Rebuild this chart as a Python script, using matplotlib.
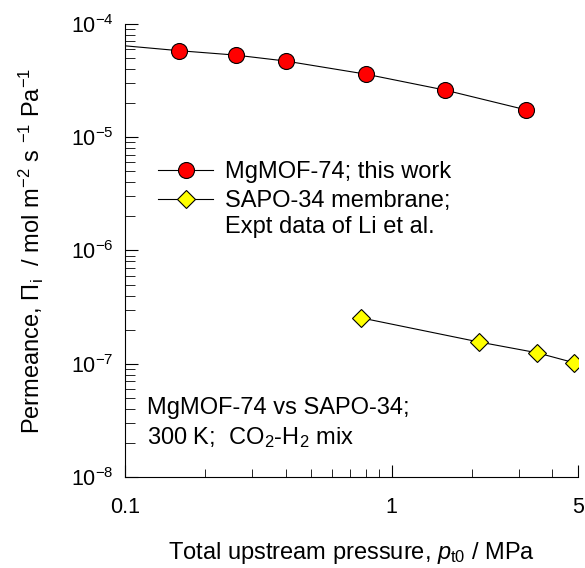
import matplotlib
matplotlib.use('Agg')
import matplotlib.pyplot as plt
from matplotlib.ticker import FixedLocator, FixedFormatter, LogLocator, NullFormatter

plt.rcParams['font.family'] = ['Liberation Sans', 'DejaVu Sans']
plt.rcParams['mathtext.fontset'] = 'custom'
plt.rcParams['mathtext.rm'] = 'Liberation Sans'
plt.rcParams['mathtext.it'] = 'Liberation Sans:italic'
plt.rcParams['mathtext.default'] = 'regular'

# MgMOF-74, this work (points)
mof_p = [0.159, 0.26, 0.40, 0.80, 1.59, 3.2]
mof_perm = [5.8e-5, 5.3e-5, 4.7e-5, 3.6e-5, 2.6e-5, 1.74e-5]
# model curve for MgMOF-74
mof_line_p = [0.1, 0.159, 0.26, 0.40, 0.80, 1.59, 3.2]
mof_line_perm = [6.4e-5, 5.8e-5, 5.3e-5, 4.7e-5, 3.6e-5, 2.6e-5, 1.74e-5]
# SAPO-34 membrane, Li et al.
sapo_p = [0.77, 2.12, 3.52, 4.85]
sapo_perm = [2.54e-7, 1.56e-7, 1.25e-7, 1.02e-7]

fig = plt.figure(figsize=(5.85, 5.68), dpi=100)
ax = fig.add_axes([0.2137, 0.160, 0.7743, 0.798])

ax.plot(mof_line_p, mof_line_perm, color='black', lw=0.8)
ax.plot(mof_p, mof_perm, 'o', color='red', mec='black', mew=0.8, ms=11.5)
ax.plot(sapo_p, sapo_perm, color='black', lw=0.8, zorder=1)
ax.plot(sapo_p, sapo_perm, 'D', color='yellow', mec='black', mew=0.8, ms=9.5)

# legend proxies
h1, = ax.plot([], [], 'o-', color='black', mfc='red', mec='black', mew=0.8, ms=11.5, lw=0.8)
h2, = ax.plot([], [], 'D-', color='black', mfc='yellow', mec='black', mew=0.8, ms=9.5, lw=0.8)
ax.legend([h1, h2], ['MgMOF-74; this work', 'SAPO-34 membrane;'],
          loc='upper left', bbox_to_anchor=(0.073, 0.697), frameon=False, fontsize=17,
          handlelength=2.33, handletextpad=0.5, labelspacing=0.3, borderpad=0,
          borderaxespad=0)
ax.text(0.221, 0.552, 'Expt data of Li et al.', transform=ax.transAxes, fontsize=17,
        va='center')

ax.set_xscale('log')
ax.set_yscale('log')
ax.set_xlim(0.1, 5)
ax.set_ylim(1e-8, 1e-4)

ax.xaxis.set_major_locator(FixedLocator([0.1, 1, 5]))
ax.xaxis.set_major_formatter(FixedFormatter(['0.1', '1', '5']))
ax.xaxis.set_minor_locator(FixedLocator([0.2, 0.3, 0.4, 0.5, 0.6, 0.7, 0.8, 0.9, 2, 3, 4]))
ax.xaxis.set_minor_formatter(NullFormatter())
ax.yaxis.set_major_locator(FixedLocator([1e-8, 1e-7, 1e-6, 1e-5, 1e-4]))
ax.yaxis.set_major_formatter(FixedFormatter([r'$10^{-8}$', r'$10^{-7}$', r'$10^{-6}$', r'$10^{-5}$', r'$10^{-4}$']))
ax.yaxis.set_minor_locator(LogLocator(base=10, subs=range(2, 10), numticks=20))
ax.yaxis.set_minor_formatter(NullFormatter())

ax.spines['top'].set_visible(False)
ax.spines['right'].set_visible(False)
ax.tick_params(which='both', direction='in', labelsize=15.5)
ax.tick_params(axis='x', which='major', length=9, pad=14)
ax.tick_params(axis='x', which='minor', length=6)
ax.tick_params(axis='y', which='major', length=9, pad=8)
ax.tick_params(axis='y', which='minor', length=7)

ax.text(0.0486, 0.152, 'MgMOF-74 vs SAPO-34;', transform=ax.transAxes, fontsize=17, va='center')
ax.text(0.0486, 0.088, r'300 K;  CO$_2$-H$_2$ mix', transform=ax.transAxes, fontsize=17, va='center')

ax.set_xlabel(r'Total upstream pressure, $\mathit{p}_{\mathrm{t0}}$ / MPa', fontsize=17, labelpad=16)
ax.set_ylabel(r'Permeance, $\Pi_{\mathrm{i}}$  / mol m$^{-2}$ s $^{-1}$ Pa$^{-1}$', fontsize=17, labelpad=18)

fig.savefig('out.png', dpi=100)
